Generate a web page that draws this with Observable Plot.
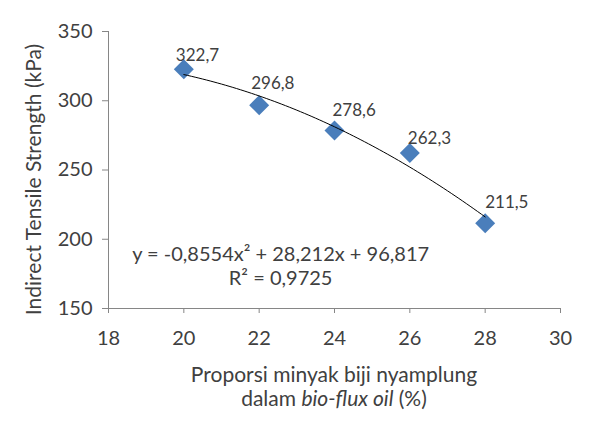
<!DOCTYPE html>
<html>
<head>
<meta charset="utf-8">
<script src="https://cdn.jsdelivr.net/npm/d3@7"></script>
<script src="https://cdn.jsdelivr.net/npm/@observablehq/plot@0.6"></script>
<style>
  html, body { margin: 0; padding: 0; background: #fff; }
  body { width: 591px; height: 424px; overflow: hidden; font-family: Lato, "Open Sans", sans-serif; color: #404040; }
  #xtitle { width: 591px; box-sizing: border-box; padding-left: 77px; padding-top: 10px; text-align: center; font-size: 21px; line-height: 24px; color: #404040; }
</style>
</head>
<body>
<div id="chart"></div>
<div id="xtitle"></div>
<script>
// ---- data ----
const proportions = [20, 22, 24, 26, 28];
const strengths = [322.7, 296.8, 278.6, 262.3, 211.5];
const valueLabels = ["322,7", "296,8", "278,6", "262,3", "211,5"];
const xTicks = [18, 20, 22, 24, 26, 28, 30];
const yTicks = [150, 200, 250, 300, 350];
const trendCoef = [-0.8554, 28.212, 96.817]; // a, b, c of the displayed trendline
const trendLines = ["y = -0,8554x² + 28,212x + 96,817", "R² = 0,9725"];
const yTitle = "Indirect Tensile Strength (kPa)";
const xTitleLine1 = "Proporsi minyak biji nyamplung";
const xTitleLine2Parts = ["dalam ", "bio-flux oil", " (%)"];

// ---- derived ----
const data = proportions.map((x, i) => ({x, y: strengths[i], label: valueLabels[i]}));
const trend = d3.range(20, 28.001, 0.1).map(x => ({x, y: trendCoef[0] * x * x + trendCoef[1] * x + trendCoef[2]}));
const labelOffsets = [[-8, -14], [-8, -22], [-2, -20], [-2, -14], [0, -21]];

const axisColor = "#868686";
const textColor = "#404040";

const chart = Plot.plot({
  width: 591,
  height: 352,
  marginLeft: 108,
  marginRight: 31,
  marginTop: 31,
  marginBottom: 44,
  style: {fontFamily: "Lato, 'Open Sans', sans-serif", background: "#fff", color: textColor},
  x: {domain: [18, 30]},
  y: {domain: [150, 350]},
  marks: [
    Plot.axisY(yTicks, {tickSize: 6, tickPadding: 10, fontSize: 20, stroke: axisColor, fill: textColor, label: null}),
    Plot.axisX(xTicks, {tickSize: 5, tickPadding: 17, fontSize: 20, stroke: axisColor, fill: textColor, label: null}),
    Plot.ruleX([18], {stroke: axisColor}),
    Plot.ruleY([150], {stroke: axisColor}),
    Plot.dot(data, {x: "x", y: "y", symbol: "diamond2", r: 9, fill: "#4A7EBB", stroke: null}),
    Plot.line(trend, {x: "x", y: "y", stroke: "#000", strokeWidth: 1}),
    ...data.map((d, i) => Plot.text([d], {
      x: "x", y: "y", text: "label", textAnchor: "start",
      dx: labelOffsets[i][0], dy: labelOffsets[i][1], fontSize: 17, fill: textColor
    })),
    Plot.text([trendLines.join("\n")], {x: 22.57, y: 181, text: d => d, fontSize: 20, lineHeight: 1.2, fill: textColor}),
    Plot.text([yTitle], {frameAnchor: "left", textAnchor: "middle", text: d => d, rotate: -90, dx: -74, dy: 9.5, fontSize: 21, fill: textColor})
  ]
});
document.getElementById("chart").appendChild(chart);

const xt = document.getElementById("xtitle");
const l1 = document.createElement("div"); l1.textContent = xTitleLine1; xt.appendChild(l1);
const l2 = document.createElement("div");
l2.appendChild(document.createTextNode(xTitleLine2Parts[0]));
const it = document.createElement("i"); it.textContent = xTitleLine2Parts[1]; l2.appendChild(it);
l2.appendChild(document.createTextNode(xTitleLine2Parts[2]));
xt.appendChild(l2);
</script>
</body>
</html>
